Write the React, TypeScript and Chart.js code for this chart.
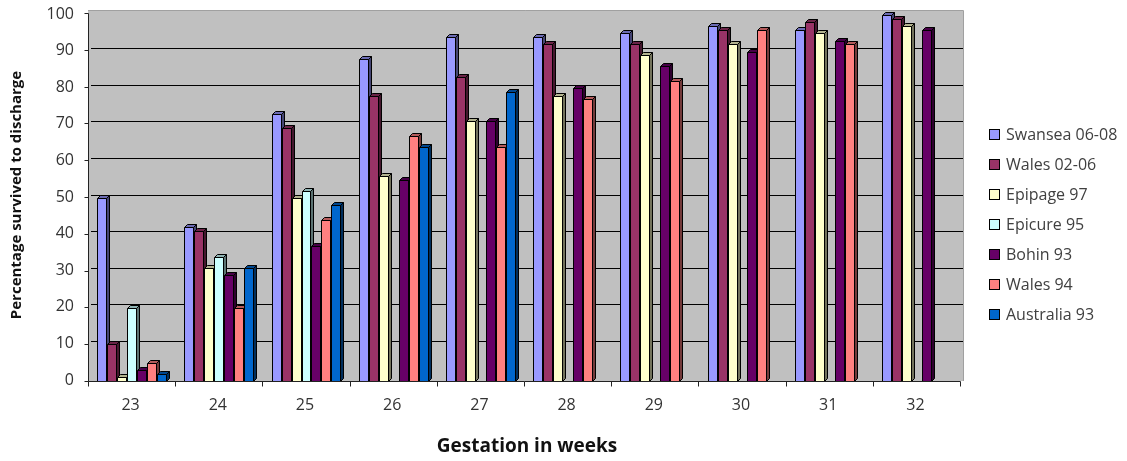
import React, { useEffect, useRef } from "react";
import { Chart, registerables } from "chart.js";

Chart.register(...registerables);

const categories = ["23", "24", "25", "26", "27", "28", "29", "30", "31", "32"];
const seriesNames = [
  "Swansea 06-08",
  "Wales 02-06",
  "Epipage 97",
  "Epicure 95",
  "Bohin 93",
  "Wales 94",
  "Australia 93",
];
const swansea = [50, 42, 73, 88, 94, 94, 95, 97, 96, 100];
const wales0206 = [10, 41, 69, 78, 83, 92, 92, 96, 98, 99];
const epipage = [1, 31, 50, 56, 71, 78, 89, 92, 95, 97];
const epicure = [20, 34, 52, null, null, null, null, null, null, null];
const bohin = [3, 29, 37, 55, 71, 80, 86, 90, 93, 96];
const wales94 = [5, 20, 44, 67, 64, 77, 82, 96, 92, null];
const australia = [2, 31, 48, 64, 79, null, null, null, null, null];
const seriesColors = ["#9999FF", "#993366", "#FFFFCC", "#CCFFFF", "#660066", "#FF8080", "#0066CC"];
const yTicks = [0, 10, 20, 30, 40, 50, 60, 70, 80, 90, 100];

const FONT = "'Open Sans', 'DejaVu Sans', sans-serif";
const DX = 3;
const DY = 3;

function shade(hex: string, f: number): string {
  const n = parseInt(hex.slice(1), 16);
  const r = Math.round(((n >> 16) & 255) * f);
  const g = Math.round(((n >> 8) & 255) * f);
  const b = Math.round((n & 255) * f);
  return `rgb(${r},${g},${b})`;
}

const bar3dPlugin = {
  id: "bar3d",
  beforeDraw(chart: any) {
    const { ctx, chartArea } = chart;
    ctx.save();
    ctx.fillStyle = "#C0C0C0";
    const l = chartArea.left - DX;
    const t = chartArea.top - 2;
    ctx.fillRect(l, t, chartArea.right - l, chartArea.bottom + DY - t);
    ctx.strokeStyle = "#A0A0A0";
    ctx.lineWidth = 1;
    ctx.beginPath();
    ctx.moveTo(l, Math.round(t) + 0.5);
    ctx.lineTo(Math.round(chartArea.right) + 0.5, Math.round(t) + 0.5);
    ctx.lineTo(Math.round(chartArea.right) + 0.5, chartArea.bottom + DY);
    ctx.stroke();
    ctx.restore();
  },
  beforeDatasetsDraw(chart: any) {
    const { ctx } = chart;
    ctx.save();
    ctx.lineWidth = 1;
    ctx.strokeStyle = "#000";
    ctx.lineJoin = "miter";
    const n = chart.data.labels.length;
    for (let j = 0; j < n; j++) {
      chart.data.datasets.forEach((ds: any, i: number) => {
        const v = ds.data[j];
        if (v === null || v === undefined) return;
        const el: any = chart.getDatasetMeta(i).data[j];
        if (!el) return;
        const color = seriesColors[i];
        const fl = Math.round(el.x - el.width / 2 - DX) + 0.5;
        const fr = Math.round(el.x + el.width / 2 - DX) + 0.5;
        const ft = Math.round(el.y + DY) + 0.5;
        const fb = Math.round(el.base + DY) + 0.5;
        // side
        ctx.beginPath();
        ctx.moveTo(fr, fb);
        ctx.lineTo(fr, ft);
        ctx.lineTo(fr + DX, ft - DY);
        ctx.lineTo(fr + DX, fb - DY);
        ctx.closePath();
        ctx.fillStyle = shade(color, 0.45);
        ctx.fill();
        ctx.stroke();
        // top
        ctx.beginPath();
        ctx.moveTo(fl, ft);
        ctx.lineTo(fl + DX, ft - DY);
        ctx.lineTo(fr + DX, ft - DY);
        ctx.lineTo(fr, ft);
        ctx.closePath();
        ctx.fillStyle = shade(color, 0.7);
        ctx.fill();
        ctx.stroke();
        // front
        ctx.beginPath();
        ctx.rect(fl, ft, fr - fl, fb - ft);
        ctx.fillStyle = color;
        ctx.fill();
        ctx.stroke();
      });
    }
    ctx.restore();
    return false;
  },
  afterDraw(chart: any) {
    const { ctx, chartArea } = chart;
    const xs = chart.scales.x;
    const ys = chart.scales.y;
    ctx.save();
    ctx.strokeStyle = "#222";
    ctx.lineWidth = 1;
    const axX = Math.round(chartArea.left - DX) + 0.5;
    const axY = Math.round(chartArea.bottom + DY) + 0.5;
    const topY = Math.round(ys.getPixelForValue(100) + 1) + 0.5;
    const rightX = Math.round(chartArea.right - DX) + 0.5;
    ctx.beginPath();
    ctx.moveTo(axX, topY);
    ctx.lineTo(axX, axY);
    ctx.lineTo(rightX, axY);
    // y ticks
    yTicks.forEach((v) => {
      const py = Math.round(ys.getPixelForValue(v) + DY * (1 - v / 100) + 1 * (v / 100)) + 0.5;
      ctx.moveTo(axX - 4, py);
      ctx.lineTo(axX, py);
    });
    // x ticks at category boundaries
    const cw = (xs.right - xs.left) / categories.length;
    for (let i = 0; i <= categories.length; i++) {
      const px = Math.round(xs.left + i * cw - DX) + 0.5;
      ctx.moveTo(px, axY);
      ctx.lineTo(px, axY + 5);
    }
    ctx.stroke();

    // legend
    ctx.font = `16px ${FONT}`;
    ctx.textBaseline = "middle";
    ctx.textAlign = "left";
    chart.data.datasets.forEach((ds: any, i: number) => {
      const cy = 135 + i * 30;
      ctx.fillStyle = seriesColors[i];
      ctx.fillRect(989.5, cy - 5.5, 10, 10);
      ctx.strokeStyle = "#000";
      ctx.strokeRect(989.5, cy - 5.5, 10, 10);
      ctx.fillStyle = "#404040";
      ctx.fillText(ds.label, 1006, cy);
    });
    ctx.restore();
  },
};

export default function App() {
  const ref = useRef<HTMLCanvasElement | null>(null);
  useEffect(() => {
    if (!ref.current) return;
    const series = [swansea, wales0206, epipage, epicure, bohin, wales94, australia];
    const chart = new Chart(ref.current, {
      type: "bar",
      data: {
        labels: categories,
        datasets: series.map((d, i) => ({
          label: seriesNames[i],
          data: d,
          backgroundColor: seriesColors[i],
          borderColor: "#000",
          borderWidth: 1,
          barPercentage: 0.9,
          categoryPercentage: 0.8,
        })),
      },
      options: {
        responsive: false,
        animation: false,
        devicePixelRatio: 1,
        layout: { padding: { left: 0, top: 12, right: 164, bottom: 0 } },
        plugins: {
          legend: { display: false },
          tooltip: { enabled: false },
          title: { display: false },
        },
        scales: {
          x: {
            offset: true,
            grid: { display: false, drawTicks: false },
            border: { display: false },
            ticks: {
              color: "#333",
              font: { family: FONT, size: 16 },
              padding: 18,
              labelOffset: -4,
              maxRotation: 0,
            },
            title: {
              display: true,
              text: "Gestation in weeks",
              color: "#111",
              font: { family: FONT, size: 19, weight: "bold" },
              padding: { top: 0, bottom: 3 },
            },
            afterFit: (s: any) => {
              s.height = 83;
              s.paddingLeft = 0;
              s.paddingRight = 0;
            },
          },
          y: {
            min: 0,
            max: 100,
            grid: {
              drawTicks: false,
              color: (c: any) => (c.tick && (c.tick.value === 0 || c.tick.value === 100) ? "rgba(0,0,0,0)" : "#000"),
              lineWidth: 1,
            },
            border: { display: false },
            ticks: {
              stepSize: 10,
              color: "#333",
              font: { family: FONT, size: 16 },
              padding: 17,
              labelOffset: 2,
            },
            title: {
              display: true,
              text: "Percentage survived to discharge",
              color: "#111",
              font: { family: FONT, size: 15, weight: "bold" },
              padding: { top: 8, bottom: 0 },
            },
            afterFit: (s: any) => {
              s.width = 91;
              s.paddingTop = 0;
              s.paddingBottom = 0;
            },
          },
        },
      },
      plugins: [bar3dPlugin],
    });
    return () => chart.destroy();
  }, []);
  return (
    <div style={{ position: "absolute", left: 0, top: 0, width: 1127, height: 461, background: "#fff" }}>
      <canvas ref={ref} width={1127} height={461} style={{ width: 1127, height: 461, display: "block" }} />
    </div>
  );
}
